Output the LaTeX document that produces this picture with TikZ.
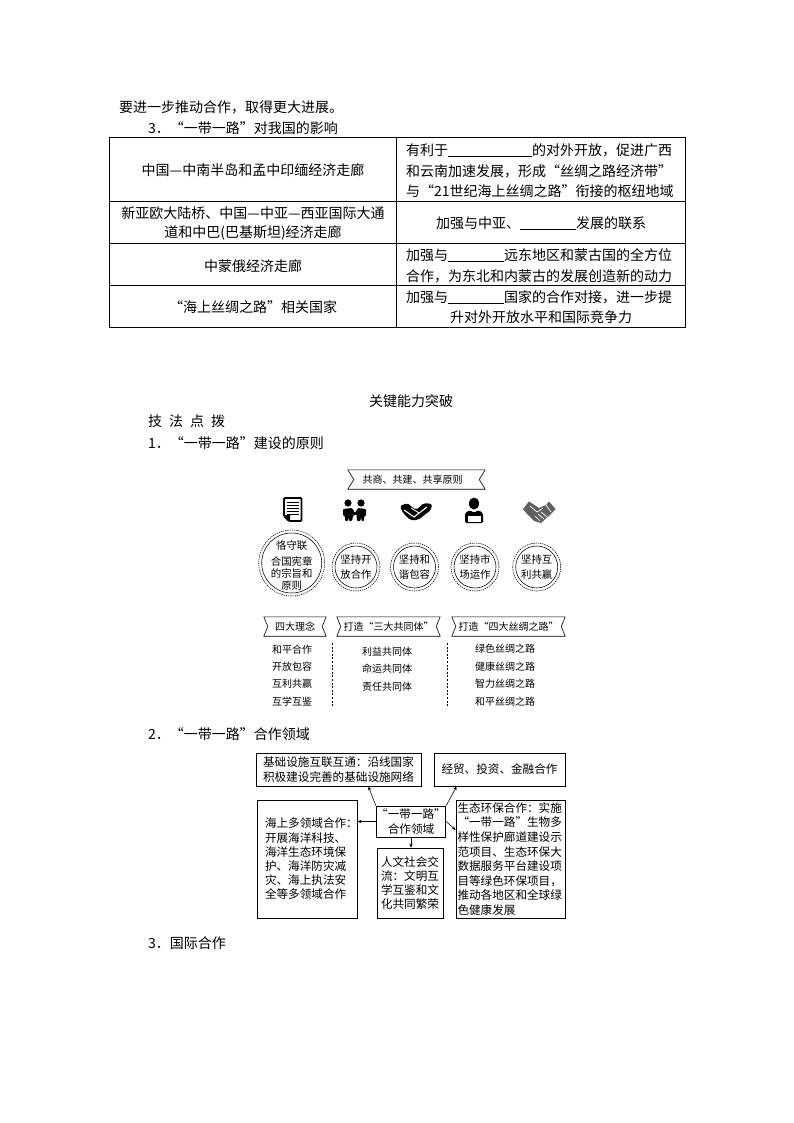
\documentclass[tikz,border=0pt]{standalone}
\usepackage{fontspec}
\setmainfont{Noto Sans CJK SC}
\usetikzlibrary{arrows.meta}
\newcommand{\blank}[1]{\rule[-1.5pt]{#1pt}{0.7pt}}
\newcommand{\ribbonshape}[2]{\draw[line width=0.6pt,line join=miter] (#1.north west) -- (#1.north east) -- ([xshift=-#2pt]#1.east) -- (#1.south east) -- (#1.south west) -- ([xshift=#2pt]#1.west) -- cycle;}
\tikzset{
  body/.style={font=\fontsize{14}{16}\selectfont,inner sep=0pt},
  lineL/.style={body,anchor=west},
  small/.style={font=\fontsize{10}{12}\selectfont,inner sep=0pt},
  ringtext/.style={font=\fontsize{10.4}{12}\selectfont,inner sep=0pt},
  ribbon/.style={small,rectangle,minimum height=19pt,inner sep=0pt},
  ring/.style={circle,draw,line width=0.55pt,inner sep=0pt,align=center,ringtext},
  dashring/.style={circle,draw,dash pattern=on 1.3pt off 0.9pt,line width=0.55pt,inner sep=0pt},
  divider/.style={dash pattern=on 2pt off 1.6pt,line width=0.7pt},
  tbl/.style={line width=0.75pt},
  box/.style={draw,line width=0.8pt,rectangle,inner ysep=0pt,font=\fontsize{11.6}{14.2}\selectfont,align=left},
  conn/.style={line width=0.55pt,-{Stealth[length=4pt,width=3.4pt]}},
}
\begin{document}
\begin{tikzpicture}[x=1pt,y=-1pt]
\useasboundingbox (0,0) rectangle (794,1123);
\fill[white] (0,0) rectangle (794,1123);

% heading text
\node[lineL] (h1) at (119,107) {要进一步推动合作，取得更大进展。};
\node[lineL] (h2) at (148,128) {3．“一带一路”对我国的影响};

% table
\draw[tbl] (109,137.5) rectangle (685,327);
\draw[tbl] (396,137.5) -- (396,327);
\draw[tbl] (109,201) -- (685,201);
\draw[tbl] (109,243) -- (685,243);
\draw[tbl] (109,285.5) -- (685,285.5);

\node[body] (a1) at (253,170) {中国—中南半岛和孟中印缅经济走廊};
\node[body] (a2) at (253,213) {新亚欧大陆桥、中国—中亚—西亚国际大通};
\node[body] (a3) at (253,233) {道和中巴(巴基斯坦)经济走廊};
\node[body] (a4) at (253,266) {中蒙俄经济走廊};
\node[body] (a5) at (253,307) {“海上丝绸之路”相关国家};

\node[lineL] (b1) at (406,150) {有利于\blank{84}的对外开放，促进广西};
\node[lineL] (b2) at (406,171) {和云南加速发展，形成“丝绸之路经济带”};
\node[lineL] (b3) at (406,191) {与“21世纪海上丝绸之路”衔接的枢纽地域};
\node[lineL] (b4) at (436,223) {加强与中亚、\blank{56}发展的联系};
\node[lineL] (b5) at (406,255) {加强与\blank{56}远东地区和蒙古国的全方位};
\node[lineL] (b6) at (406,276) {合作，为东北和内蒙古的发展创造新的动力};
\node[lineL] (b7) at (406,297) {加强与\blank{56}国家的合作对接，进一步提};
\node[body] (b8) at (541,317) {升对外开放水平和国际竞争力};

% section titles
\node[body] (s0) at (411,401) {关键能力突破};
\node[lineL] (s1) at (148,421) {技\hspace{7pt}法\hspace{7pt}点\hspace{7pt}拨};
\node[lineL] (s2) at (148,443) {1．“一带一路”建设的原则};
\node[lineL] (s3) at (148,734) {2．“一带一路”合作领域};
\node[lineL] (s4) at (148,943) {3．国际合作};

% top ribbon
\node[ribbon,minimum width=137pt] (r0) at (416.5,479.5) {共商、共建、共享原则\hspace*{8pt}};
\ribbonshape{r0}{6}

% icons: document
\draw[line width=1.8pt,line join=round,rounded corners=1pt] (284,498) -- (301.5,498) -- (301.5,521) -- (289,521) -- (284,516) -- cycle;
\draw[line width=0.9pt] (287,502.5) -- (298.5,502.5) (287,505.5) -- (298.5,505.5) (287,508.5) -- (298.5,508.5) (287,511.5) -- (298.5,511.5) (287,514.5) -- (298.5,514.5);
\fill (284,515) -- (290,515) -- (290,521) -- cycle;
% icons: two people
\fill (348,503) circle (3.6) (361,503) circle (3.6);
\fill[rounded corners=1pt] (343,509) -- (352,508) -- (355,513) -- (358,508) -- (366,509) -- (366,516) -- (364,516) -- (364,521) -- (361.5,521) -- (361,516) -- (360.5,521) -- (357,521) -- (356.5,514) -- (353,516) -- (352,521) -- (349,521) -- (348.5,516) -- (348,521) -- (345,521) -- (345,516) -- (343,516) -- cycle;
% icons: joined hands
\fill[rounded corners=2pt] (400,506) -- (407,503) -- (416,510) -- (424,503) -- (432,504) -- (431,510) -- (418,520) -- (410,520) -- (403,513) -- cycle;
\draw[white,line width=1.1pt] (404,510) -- (414,517) -- (427,507);
\draw[white,line width=0.9pt] (411,508) -- (419,513);
% icons: person at laptop
\fill (474,503.5) ellipse (5 and 6);
\fill[rounded corners=1.5pt] (465,523) -- (465,513) -- (470,510) -- (474,513) -- (478,510) -- (483,513) -- (483,523) -- cycle;
\fill[white] (467.5,515.5) rectangle (480.5,521.5);
% icons: handshake
\fill[gray!75!black] (523,509) -- (529,501.5) -- (539,508) -- (546,505) -- (549,501.5) -- (555.5,509) -- (551,514) -- (541,523) -- (534,521) -- (527,514) -- cycle;
\draw[white,line width=0.7pt] (530,506) -- (537,512) -- (543,508) (535,516) -- (540,521) (538,514) -- (544,519) (541,512) -- (547,517) (546,505) -- (551,512);

% circles
\node[ring,minimum size=60pt] (c1) at (291.7,563) {};
\node[dashring,minimum size=66pt] (c1o) at (c1.center) {};
\node[ringtext,align=center] (c1t) at (291.7,565.5) {恪守联\\[4pt]合国宪章\\的宗旨和\\原则};
\node[ring,minimum size=42pt] (c2) at (356,567) {坚持开\\[2.5pt]放合作};
\node[dashring,minimum size=48pt] (c2o) at (c2.center) {};
\node[ring,minimum size=42pt] (c3) at (414.5,567) {坚持和\\[2.5pt]谐包容};
\node[dashring,minimum size=48pt] (c3o) at (c3.center) {};
\node[ring,minimum size=42pt] (c4) at (475,567) {坚持市\\[2.5pt]场运作};
\node[dashring,minimum size=48pt] (c4o) at (c4.center) {};
\node[ring,minimum size=42pt] (c5) at (536.7,567) {坚持互\\[2.5pt]利共赢};
\node[dashring,minimum size=48pt] (c5o) at (c5.center) {};

% three ribbons
\node[ribbon,minimum width=62pt] (r1) at (295,626.5) {四大理念};
\ribbonshape{r1}{4}
\node[ribbon,minimum width=103pt] (r2) at (388.5,626.5) {打造“三大共同体”};
\ribbonshape{r2}{4}
\node[ribbon,minimum width=113pt] (r3) at (508.5,626.5) {打造“四大丝绸之路”};
\ribbonshape{r3}{4}
\coordinate (d1a) at (332,643); \coordinate (d1b) at (332,707);
\coordinate (d2a) at (447,643); \coordinate (d2b) at (447,707);
\draw[divider] (d1a) -- (d1b);
\draw[divider] (d2a) -- (d2b);

\node[small] (p1) at (292,650) {和平合作};
\node[small] (p2) at (292,667) {开放包容};
\node[small] (p3) at (292,684) {互利共赢};
\node[small] (p4) at (292,702) {互学互鉴};
\node[small] (q1) at (387,652) {利益共同体};
\node[small] (q2) at (387,669) {命运共同体};
\node[small] (q3) at (387,687) {责任共同体};
\node[small] (u1) at (505,649) {绿色丝绸之路};
\node[small] (u2) at (505,667) {健康丝绸之路};
\node[small] (u3) at (505,684) {智力丝绸之路};
\node[small] (u4) at (505,702) {和平丝绸之路};

% cooperation boxes
\node[box,minimum width=165pt,minimum height=33pt,inner xsep=0pt,align=center] (A) at (338.5,769.5) {基础设施互联互通：沿线国家\\积极建设完善的基础设施网络};
\node[box,minimum width=131pt,minimum height=33pt,inner xsep=0pt,align=center] (B) at (499.5,769.5) {经贸、投资、金融合作};
\node[box,minimum width=100pt,minimum height=118pt,inner xsep=8pt,text width=84pt] (C) at (307,859) {海上多领域合作：\\开展海洋科技、\\海洋生态环境保\\护、海洋防灾减\\灾、海上执法安\\全等多领域合作};
\node[box,minimum width=68pt,minimum height=31pt,inner xsep=0pt,align=center] (D) at (411,821.5) {“一带一路”\\合作领域};
\node[box,minimum width=66pt,minimum height=70pt,inner xsep=4pt,text width=58pt] (E) at (410,883) {人文社会交\\流：文明互\\学互鉴和文\\化共同繁荣};
\node[box,minimum width=109pt,minimum height=118pt,inner xsep=1.5pt,text width=106pt,font=\fontsize{11.6}{14.6}\selectfont] (F) at (510.5,859) {生态环保合作：实施\\“一带一路”生物多\\样性保护廊道建设示\\范项目、生态环保大\\数据服务平台建设项\\目等绿色环保项目，\\推动各地区和全球绿\\色健康发展};

\draw[conn] (D.north west) -- ([xshift=-53pt]A.south east);
\draw[conn] (D.north east) -- ([xshift=23pt]B.south west);
\draw[conn] (D.west) -- (D.west -| C.east);
\draw[conn] (D.south) -- (D.south |- E.north);
\draw[conn] (D.east) -- ([yshift=29pt]F.west);
\end{tikzpicture}
\end{document}
